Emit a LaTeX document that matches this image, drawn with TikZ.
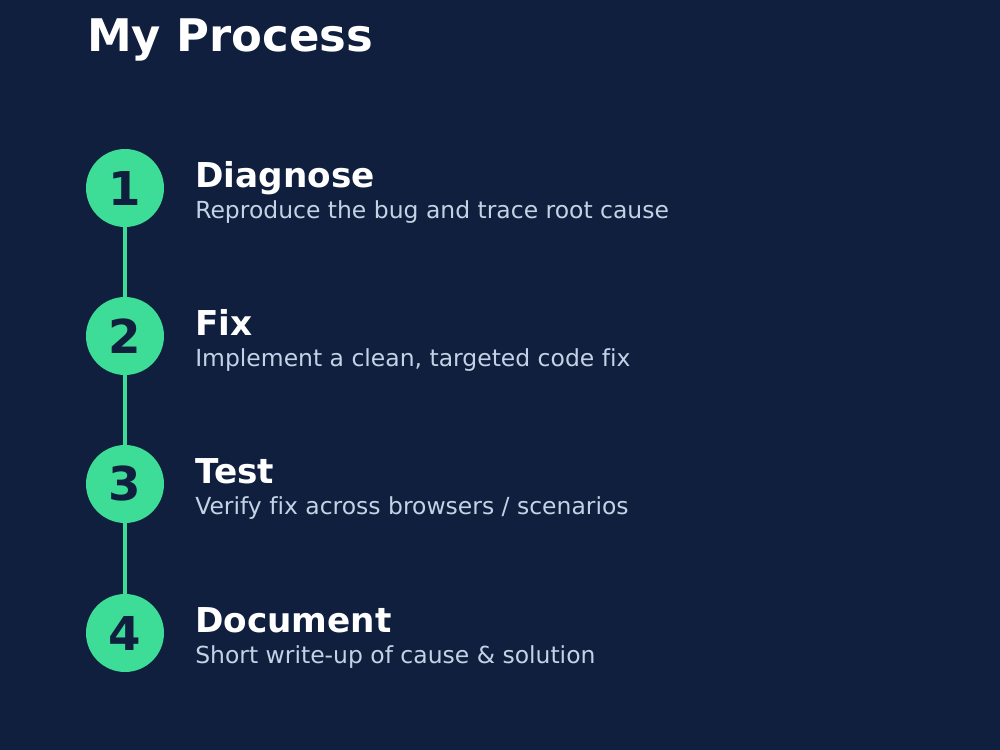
\documentclass[tikz,border=0pt]{standalone}
\usepackage{fontspec}
\setmainfont{DejaVu Sans}[Ligatures={NoCommon}]
\definecolor{bg}{HTML}{0F1F3D}
\definecolor{grn}{HTML}{3DDC97}
\definecolor{sub}{HTML}{C5D2E6}
\begin{document}
\begin{tikzpicture}[x=0.75pt,y=-0.75pt,
  stepnode/.style={circle,fill=grn,minimum size=58.5pt,inner sep=0pt,text=bg,font=\bfseries\fontsize{35}{35}\selectfont},
  head/.style={anchor=base west,inner sep=0pt,text=white,font=\bfseries\fontsize{25.7}{25.7}\selectfont},
  desc/.style={anchor=base west,inner sep=0pt,text=sub,font=\fontsize{17.6}{17.6}\selectfont},
  link/.style={grn,line width=2.6pt}]
\fill[bg] (0,0) rectangle (1000,750);
\useasboundingbox (0,0) rectangle (1000,750);
\node[anchor=base west,inner sep=0pt,text=white,font=\bfseries\fontsize{33.7}{33.7}\selectfont] (title) at (87,51) {My Process};
\foreach \i/\y/\h/\d in {1/188/Diagnose/{Reproduce the bug and trace root cause},
  2/336/Fix/{Implement a clean, targeted code fix},
  3/484/Test/{Verify fix across browsers / scenarios},
  4/633/Document/{Short write-up of cause \& solution}}{
  \node[head] (h\i) at (195,\y-1) {\h};
  \node[desc] (d\i) at (195,\y+30) {\d};
}
\coordinate (c1) at (125,188);\coordinate (c2) at (125,336);
\coordinate (c3) at (125,484);\coordinate (c4) at (125,633);
\draw[link] (c1) -- (c4);
\foreach \i in {1,...,4}{\node[stepnode] (s\i) at (c\i) {\i};}
\end{tikzpicture}
\end{document}
